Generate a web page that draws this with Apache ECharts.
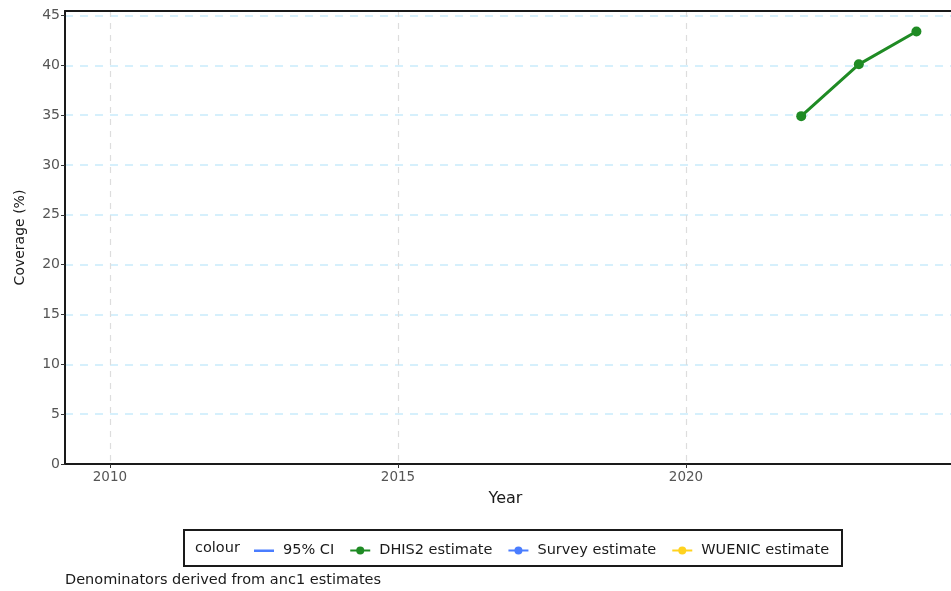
<!DOCTYPE html>
<html>
<head>
<meta charset="utf-8">
<script src="https://cdn.jsdelivr.net/npm/echarts@6/dist/echarts.min.js"></script>
<style>
  html, body { margin: 0; padding: 0; background: #fff; }
  #chart { width: 951px; height: 591px; }
</style>
</head>
<body>
<div id="chart"></div>
<script>
// data
const years = [2022, 2023, 2024];
const dhis2 = [34.9, 40.1, 43.4];
const xTicks = [2010, 2015, 2020];
const legendNames = ['95% CI', 'DHIS2 estimate', 'Survey estimate', 'WUENIC estimate'];

const green = '#1f8b24';
const blue = '#4a7dff';
const gold = '#ffd21f';
const font = '"DejaVu Sans", Arial, sans-serif';

const chart = echarts.init(document.getElementById('chart'));

const option = {
  backgroundColor: '#fff',
  animation: false,
  textStyle: { fontFamily: font },
  grid: { left: 65, top: 11, right: 0, bottom: 127 },
  xAxis: [{
    type: 'value',
    min: 2009.22,
    max: 2024.6,
    name: 'Year',
    nameLocation: 'middle',
    nameGap: 27,
    nameTextStyle: { fontSize: 16, color: '#1a1a1a', padding: [0, 0, 0, -5] },
    axisLine: { show: true, onZero: false, lineStyle: { color: '#1a1a1a', width: 2 } },
    axisTick: { show: true, customValues: xTicks, length: 4, lineStyle: { color: '#333' } },
    axisLabel: {
      customValues: xTicks, color: '#555', fontSize: 13.5, margin: 6,
      formatter: v => String(v)
    },
    splitLine: { show: true, lineStyle: { color: '#dddddd', type: [6, 6], width: 1.2 } }
  }, {
    // top frame line only
    type: 'value',
    position: 'top',
    min: 2009.22,
    max: 2024.6,
    axisLine: { show: true, onZero: false, lineStyle: { color: '#1a1a1a', width: 2 } },
    axisTick: { show: false },
    axisLabel: { show: false },
    splitLine: { show: false }
  }],
  yAxis: {
    type: 'value',
    min: 0,
    max: 45.45,
    interval: 5,
    name: 'Coverage (%)',
    nameLocation: 'middle',
    nameGap: 38,
    nameTextStyle: { fontSize: 14, color: '#1a1a1a' },
    axisLine: { show: true, lineStyle: { color: '#1a1a1a', width: 2 } },
    axisTick: { show: true, length: 4, lineStyle: { color: '#333' } },
    axisLabel: { color: '#555', fontSize: 14, margin: 5, showMaxLabel: false },
    splitLine: { show: true, lineStyle: { color: '#c9ecfb', type: [8, 7], width: 1.5 } }
  },
  legend: {
    left: 249,
    top: 538,
    itemGap: 15,
    itemWidth: 20,
    itemHeight: 10,
    textStyle: { fontSize: 14.5, color: '#1a1a1a', fontFamily: font, padding: [0, 0, 0, 4] },
    data: [
      { name: legendNames[0], icon: 'path://M0,0 M0,10 M0,4 H20 V6.5 H0 Z' },
      legendNames[1], legendNames[2], legendNames[3]
    ]
  },
  graphic: [
    {
      type: 'rect',
      shape: { x: 184, y: 530, width: 658, height: 36 },
      style: { fill: 'none', stroke: '#1a1a1a', lineWidth: 2 }
    },
    {
      type: 'text',
      left: 195, top: 541,
      style: { text: 'colour', font: '14.5px ' + font, fill: '#1a1a1a' }
    },
    {
      type: 'text',
      left: 65, top: 573,
      style: { text: 'Denominators derived from anc1 estimates', font: '14.5px ' + font, fill: '#1a1a1a' }
    }
  ],
  series: [
    {
      name: '95% CI', type: 'line', data: [], symbol: 'none',
      lineStyle: { color: blue, width: 3 }, itemStyle: { color: blue }
    },
    {
      name: 'DHIS2 estimate', type: 'line',
      data: years.map((y, i) => [y, dhis2[i]]),
      symbol: 'circle', symbolSize: 10,
      lineStyle: { color: green, width: 3 }, itemStyle: { color: green }
    },
    {
      name: 'Survey estimate', type: 'line', data: [], symbol: 'circle', symbolSize: 10,
      lineStyle: { color: blue, width: 3 }, itemStyle: { color: blue }
    },
    {
      name: 'WUENIC estimate', type: 'line', data: [], symbol: 'circle', symbolSize: 10,
      lineStyle: { color: gold, width: 3 }, itemStyle: { color: gold }
    }
  ]
};

chart.setOption(option);
</script>
</body>
</html>
